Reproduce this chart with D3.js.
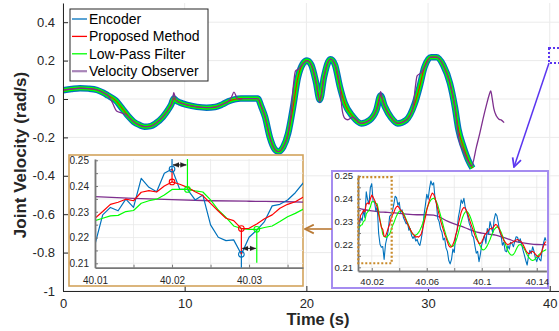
<!DOCTYPE html>
<html>
<head>
<meta charset="utf-8">
<script src="https://cdn.jsdelivr.net/npm/d3@7"></script>
<style>
  body { margin: 0; background: #fff; }
  svg { display: block; font-family: "Liberation Sans", Arial, Helvetica, sans-serif; }
</style>
</head>
<body>
<svg id="chart" width="559" height="331"></svg>
<script>
// ---- main plot data ----
// encoder / proposed / low-pass overlap at this scale, so they share one trajectory
const bandT = [0, 0.7, 1.4, 2.1, 2.8, 3.3, 3.7, 4.3, 4.9, 5.4, 5.8, 6.3, 6.7, 7.2, 7.6, 8.2, 8.6, 8.9, 9.1, 9.3, 9.6,
  10.2, 11.0, 11.8, 12.5, 13.1, 13.6, 14.1, 14.6, 16.0, 16.3, 16.6, 17.0, 17.4, 17.7, 18.1, 18.5, 18.9, 19.3, 19.7,
  20.05, 20.4, 20.8, 21.1, 21.45, 21.8, 22.0, 22.35, 22.75, 23.15, 23.8, 24.5, 25.2, 25.75, 26.1, 26.45, 27.0, 27.5,
  28.2, 28.9, 29.3, 29.7, 30.25, 30.7, 31.25, 31.8, 32.2, 32.5, 32.9, 33.3, 33.65];
const bandV = [0.046, 0.052, 0.056, 0.054, 0.047, 0.033, 0.018, -0.006, -0.052, -0.092, -0.118, -0.136, -0.144, -0.141,
  -0.128, -0.094, -0.060, -0.028, 0.003, -0.008, -0.018, -0.031, -0.041, -0.045, -0.042, -0.028, -0.012, -0.002, 0.002,
  0.002, -0.040, -0.092, -0.200, -0.262, -0.274, -0.250, -0.180, -0.045, 0.110, 0.182, 0.200, 0.178, 0.085, -0.005,
  0.115, 0.194, 0.207, 0.178, 0.065, -0.022, -0.090, -0.127, -0.110, -0.058, 0.018, -0.040, -0.100, -0.127, -0.110,
  -0.025, 0.062, 0.165, 0.218, 0.218, 0.176, 0.082, -0.040, -0.160, -0.248, -0.318, -0.360];

const observerT = [0, 0.7, 1.4, 2.1, 2.8, 3.3, 3.7, 3.9, 4.1, 4.4, 4.8, 5.2, 5.5, 5.8, 6.3, 6.7, 7.2, 7.6, 8.2, 8.6,
  9.0, 9.1, 9.25, 9.5, 10.2, 11.0, 11.8, 12.5, 13.1, 13.6, 13.85, 14.05, 14.3, 14.5, 14.8, 16.0, 16.3, 16.6, 17.0, 17.4,
  17.7, 18.1, 18.5, 18.75, 18.95, 19.1, 19.35, 19.7, 20.05, 20.4, 20.8, 21.1, 21.45, 21.8, 22.0, 22.35, 22.75, 22.95,
  23.15, 23.4, 23.8, 24.5, 25.2, 25.75, 26.0, 26.1, 26.25, 26.45, 27.0, 27.5, 28.2, 28.75, 28.95, 29.1, 29.45, 29.7,
  30.25, 30.7, 31.25, 31.8, 32.2, 32.55, 32.9, 33.3, 33.57, 33.98, 34.25, 34.5, 34.8, 35.02, 35.15, 35.27, 35.4,
  35.62, 35.84, 36.0, 36.25];
const observerV = [0.046, 0.052, 0.056, 0.054, 0.047, 0.033, 0.018, 0.000, -0.025, -0.062, -0.072, -0.082, -0.100,
  -0.118, -0.136, -0.144, -0.141, -0.128, -0.094, -0.060, -0.012, 0.033, 0.000, -0.016, -0.031, -0.041, -0.045, -0.042,
  -0.028, -0.012, 0.010, 0.036, 0.005, -0.003, 0.002, 0.002, -0.040, -0.092, -0.200, -0.262, -0.274, -0.250, -0.180,
  -0.070, 0.080, 0.145, 0.155, 0.182, 0.200, 0.178, 0.085, -0.015, 0.115, 0.194, 0.207, 0.178, 0.065, -0.060, -0.100,
  -0.108, -0.095, -0.127, -0.110, -0.058, -0.005, 0.038, -0.005, -0.040, -0.100, -0.127, -0.110, -0.050, 0.060, 0.120,
  0.138, 0.165, 0.218, 0.218, 0.176, 0.082, -0.040, -0.213, -0.270, -0.325, -0.349, -0.248, -0.179, -0.109, -0.031,
  0.021, 0.042, 0.003, -0.049, -0.089, -0.106, -0.109, -0.123];

const xTicks = [0, 10, 20, 30, 40];
const yTicks = [-1, -0.8, -0.6, -0.4, -0.2, 0, 0.2, 0.4];

// ---- zoomed data, sampled every 1 ms from 40.010 s ----
const insetStart = 40.010;
const insetStep = 0.001;
const insetEncoder = [0.2174, 0.2288, 0.2317, 0.2304, 0.2349, 0.2317, 0.2430, 0.2395, 0.2378, 0.2450,
  0.2466, 0.2387, 0.2387, 0.2346, 0.2365, 0.2249, 0.2201, 0.2188, 0.2191, 0.2135,
  0.2201, 0.2229, 0.2262, 0.2323, 0.2329, 0.2346, 0.2374, 0.2411,
  0.2405, 0.2372, 0.2385, 0.2340, 0.2352, 0.2318, 0.2305, 0.2290, 0.2296, 0.2262,
  0.2270, 0.2238, 0.2226, 0.2238, 0.2215, 0.2222, 0.2204, 0.2196, 0.2225, 0.2262,
  0.2330, 0.2372, 0.2420, 0.2398, 0.2445, 0.2478, 0.2460, 0.2470, 0.2402, 0.2380,
  0.2314, 0.2300, 0.2268, 0.2255, 0.2220, 0.2228, 0.2185, 0.2170, 0.2130, 0.2115,
  0.2135, 0.2180, 0.2165, 0.2238, 0.2260, 0.2320, 0.2350, 0.2395, 0.2380, 0.2402,
  0.2362, 0.2344, 0.2318, 0.2290, 0.2275, 0.2240, 0.2232, 0.2195, 0.2162, 0.2170,
  0.2125, 0.2158, 0.2200, 0.2220, 0.2241, 0.2205, 0.2270, 0.2245, 0.2300, 0.2277,
  0.2250, 0.2310, 0.2335, 0.2326, 0.2295, 0.2255, 0.2240, 0.2197, 0.2210, 0.2172,
  0.2168, 0.2195, 0.2180, 0.2210, 0.2205, 0.2190, 0.2215, 0.2234, 0.2232, 0.2210,
  0.2225, 0.2200, 0.2175, 0.2153, 0.2130, 0.2110, 0.2150, 0.2175, 0.2160, 0.2190,
  0.2170, 0.2140, 0.2125, 0.2150, 0.2135, 0.2128, 0.2180, 0.2209, 0.2230, 0.2215];
const insetProposed = [0.2275, 0.2301, 0.2329, 0.2337, 0.2349, 0.2343, 0.2376, 0.2382, 0.2377, 0.2400,
  0.2416, 0.2407, 0.2395, 0.2378, 0.2363, 0.2333, 0.2303, 0.2275, 0.2266, 0.2235,
  0.2236, 0.2253, 0.2273, 0.2288, 0.2314, 0.2329, 0.2339, 0.2356,
  0.2365, 0.2368, 0.2360, 0.2350, 0.2345, 0.2330, 0.2318, 0.2305, 0.2290, 0.2280,
  0.2265, 0.2255, 0.2245, 0.2240, 0.2232, 0.2235, 0.2232, 0.2238, 0.2245, 0.2268,
  0.2295, 0.2320, 0.2350, 0.2372, 0.2395, 0.2412, 0.2425, 0.2420, 0.2405, 0.2380,
  0.2355, 0.2330, 0.2305, 0.2285, 0.2265, 0.2245, 0.2230, 0.2212, 0.2195, 0.2188,
  0.2190, 0.2200, 0.2215, 0.2240, 0.2262, 0.2290, 0.2315, 0.2340, 0.2355, 0.2362,
  0.2358, 0.2345, 0.2330, 0.2310, 0.2292, 0.2275, 0.2258, 0.2240, 0.2225, 0.2215,
  0.2205, 0.2205, 0.2212, 0.2225, 0.2240, 0.2248, 0.2255, 0.2262, 0.2270, 0.2268,
  0.2272, 0.2280, 0.2288, 0.2285, 0.2275, 0.2262, 0.2245, 0.2232, 0.2218, 0.2210,
  0.2202, 0.2200, 0.2202, 0.2205, 0.2208, 0.2212, 0.2215, 0.2220, 0.2222, 0.2218,
  0.2215, 0.2210, 0.2200, 0.2188, 0.2175, 0.2165, 0.2160, 0.2162, 0.2168, 0.2170,
  0.2165, 0.2158, 0.2150, 0.2148, 0.2150, 0.2160, 0.2175, 0.2195, 0.2210, 0.2212];
const insetLowPass = [0.2266, 0.2275, 0.2284, 0.2286, 0.2301, 0.2305, 0.2333, 0.2343, 0.2349, 0.2365,
  0.2387, 0.2387, 0.2387, 0.2381, 0.2377, 0.2346, 0.2307, 0.2278, 0.2245, 0.2235,
  0.2232, 0.2232, 0.2239, 0.2245, 0.2262, 0.2281, 0.2294, 0.2310,
  0.2325, 0.2338, 0.2345, 0.2348, 0.2345, 0.2338, 0.2325, 0.2310, 0.2295, 0.2280,
  0.2265, 0.2252, 0.2245, 0.2240, 0.2241, 0.2245, 0.2252, 0.2262, 0.2275, 0.2292,
  0.2312, 0.2335, 0.2355, 0.2372, 0.2385, 0.2395, 0.2400, 0.2402, 0.2398, 0.2388,
  0.2372, 0.2350, 0.2328, 0.2305, 0.2282, 0.2260, 0.2240, 0.2222, 0.2208, 0.2198,
  0.2190, 0.2192, 0.2200, 0.2212, 0.2230, 0.2252, 0.2275, 0.2298, 0.2318, 0.2333,
  0.2342, 0.2345, 0.2340, 0.2330, 0.2315, 0.2298, 0.2278, 0.2258, 0.2238, 0.2220,
  0.2205, 0.2192, 0.2180, 0.2176, 0.2178, 0.2185, 0.2195, 0.2208, 0.2222, 0.2238,
  0.2252, 0.2265, 0.2272, 0.2277, 0.2275, 0.2268, 0.2255, 0.2240, 0.2222, 0.2205,
  0.2188, 0.2172, 0.2162, 0.2155, 0.2153, 0.2156, 0.2165, 0.2178, 0.2190, 0.2198,
  0.2200, 0.2196, 0.2190, 0.2180, 0.2168, 0.2155, 0.2145, 0.2138, 0.2132, 0.2130,
  0.2132, 0.2138, 0.2145, 0.2152, 0.2158, 0.2163, 0.2168, 0.2172, 0.2175, 0.2178];
const insetObserverT = [40.010, 40.015, 40.020, 40.025, 40.030, 40.035, 40.040, 40.045, 40.050, 40.055, 40.060,
  40.065, 40.070, 40.075, 40.080, 40.085, 40.090, 40.095, 40.100, 40.105, 40.110, 40.115, 40.120, 40.125, 40.130,
  40.135, 40.140, 40.145, 40.150];
const insetObserverV = [0.2359, 0.2352, 0.2347, 0.2343, 0.2341, 0.2339, 0.2336, 0.2333, 0.2331, 0.2330, 0.2330,
  0.2328, 0.2318, 0.2302, 0.2290, 0.2280, 0.2268, 0.2256, 0.2250, 0.2245, 0.2241, 0.2232, 0.2222, 0.2212, 0.2207,
  0.2203, 0.2200, 0.2199, 0.2198];
// sample indices of the marked peak / trough (encoder, proposed, low-pass)
const peakIdx = [10, 10, 12];
const troughIdx = [19, 19, 21];

const series = ["Encoder", "Proposed Method", "Low-Pass Filter", "Velocity Observer"];
const colors = { enc: "#0072bd", prop: "#ff0000", lpf: "#00ff00", obs: "#7e2f8e" };

const svg = d3.select("#chart");
const defs = svg.append("defs");
const insetT = insetEncoder.map((_, i) => +(insetStart + i * insetStep).toFixed(3));

function arrowMarker(id, color, size, filled) {
  defs.append("marker")
    .attr("id", id)
    .attr("viewBox", "0 0 10 10")
    .attr("refX", filled ? 10 : 9).attr("refY", 5)
    .attr("markerUnits", "userSpaceOnUse")
    .attr("markerWidth", size).attr("markerHeight", size)
    .attr("orient", "auto-start-reverse")
    .append("path")
    .attr("d", filled ? "M0,1 L10,5 L0,9 Z" : "M1,1 L9,5 L1,9")
    .attr("fill", filled ? color : "none")
    .attr("stroke", color)
    .attr("stroke-width", filled ? 0.5 : 1.6);
}
arrowMarker("arrPurple", "#5a35f0", 11, false);
arrowMarker("arrOrange", "#b97a35", 11, false);
arrowMarker("arrBlack", "#222", 6, true);

// ---- main axes ----
const x = d3.scaleLinear().domain([0, 41.5]).range([63, 568]);
const y = d3.scaleLinear().domain([-1, 0.5]).range([291, 3]);

defs.append("clipPath").attr("id", "mainClip").append("rect")
  .attr("x", 63).attr("y", 3).attr("width", 505).attr("height", 288);

const grid = svg.append("g").attr("stroke", "#ebebeb").attr("stroke-width", 1);
grid.selectAll("line.gx").data(xTicks).join("line")
  .attr("x1", (d) => x(d)).attr("x2", (d) => x(d)).attr("y1", 3).attr("y2", 291);
grid.selectAll("line.gy").data(yTicks).join("line")
  .attr("x1", 63).attr("x2", 568).attr("y1", (d) => y(d)).attr("y2", (d) => y(d));

const plot = svg.append("g").attr("clip-path", "url(#mainClip)");
const band = bandT.map((t, i) => [t, bandV[i]]);
const obs = observerT.map((t, i) => [t, observerV[i]]);
const mainLine = d3.line().x((d) => x(d[0])).y((d) => y(d[1])).curve(d3.curveMonotoneX);

[[colors.enc, 6.5], [colors.lpf, 4], [colors.prop, 1]].forEach(([c, w]) => {
  plot.append("path").attr("d", mainLine(band))
    .attr("fill", "none").attr("stroke", c).attr("stroke-width", w)
    .attr("stroke-linejoin", "round");
});
plot.append("path").attr("d", mainLine(obs))
  .attr("fill", "none").attr("stroke", colors.obs).attr("stroke-width", 1.3);

const xAxis = svg.append("g").attr("transform", "translate(0,291)")
  .call(d3.axisBottom(x).tickValues(xTicks).tickSizeInner(-5).tickSizeOuter(0).tickPadding(8)
    .tickFormat((d) => String(d)));
const yAxis = svg.append("g").attr("transform", "translate(63,0)")
  .call(d3.axisLeft(y).tickValues(yTicks).tickSizeInner(-5).tickSizeOuter(0).tickPadding(8)
    .tickFormat((d) => String(d)));
[xAxis, yAxis].forEach((a) => {
  a.select(".domain").attr("stroke", "#262626");
  a.selectAll(".tick line").attr("stroke", "#262626");
  a.selectAll("text").attr("fill", "#262626").attr("font-size", 13);
});

svg.append("text").attr("x", 318).attr("y", 325).attr("text-anchor", "middle")
  .attr("font-weight", "bold").attr("font-size", 16.5).attr("fill", "#262626").text("Time (s)");
svg.append("text").attr("transform", "translate(26,155) rotate(-90)").attr("text-anchor", "middle")
  .attr("font-weight", "bold").attr("font-size", 17).attr("fill", "#262626").text("Joint Velocity (rad/s)");

// ---- legend ----
const legend = svg.append("g");
legend.append("rect").attr("x", 70).attr("y", 9).attr("width", 138).attr("height", 72)
  .attr("fill", "#fff").attr("stroke", "#262626").attr("stroke-width", 1);
const legendColors = [colors.enc, colors.prop, colors.lpf, "#a884b8"];
series.forEach((name, i) => {
  const ly = 19 + i * 17.4;
  legend.append("line").attr("x1", 72).attr("x2", 87).attr("y1", ly).attr("y2", ly)
    .attr("stroke", legendColors[i]).attr("stroke-width", i === 3 ? 2.2 : 1.3);
  legend.append("text").attr("x", 89).attr("y", ly).attr("dy", "0.35em")
    .attr("font-size", 14).attr("fill", "#000").text(name);
});

// ---- zoom insets ----
function drawInset(cfg) {
  const g = svg.append("g");
  g.append("rect").attr("x", cfg.box[0]).attr("y", cfg.box[1]).attr("width", cfg.box[2]).attr("height", cfg.box[3])
    .attr("fill", "#fff").attr("stroke", cfg.border).attr("stroke-width", cfg.borderWidth);

  const xs = d3.scaleLinear().domain(cfg.xDomain).range(cfg.xRange);
  const ys = d3.scaleLinear().domain(cfg.yDomain).range(cfg.yRange);
  const [x0, x1] = cfg.xRange;
  const [yb, yt] = cfg.yRange;

  g.append("g").attr("stroke", "#e8e8e8").attr("stroke-width", 0.8)
    .call((gg) => {
      gg.selectAll("line.v").data(cfg.xTicks).join("line")
        .attr("x1", (d) => xs(d)).attr("x2", (d) => xs(d)).attr("y1", yt).attr("y2", yb);
      gg.selectAll("line.h").data(cfg.yTicks).join("line")
        .attr("x1", x0).attr("x2", x1).attr("y1", (d) => ys(d)).attr("y2", (d) => ys(d));
    });

  const clipId = cfg.id + "Clip";
  defs.append("clipPath").attr("id", clipId).append("rect")
    .attr("x", x0).attr("y", yt).attr("width", x1 - x0).attr("height", yb - yt);
  const body = g.append("g").attr("clip-path", `url(#${clipId})`);
  const line = d3.line().x((d, i) => xs(insetT[i])).y((d) => ys(d));
  const obsLine = d3.line().x((d, i) => xs(insetObserverT[i])).y((d) => ys(d)).curve(d3.curveMonotoneX);
  body.append("path").attr("d", obsLine(insetObserverV)).attr("fill", "none")
    .attr("stroke", colors.obs).attr("stroke-width", 1.3);
  [[insetEncoder, colors.enc], [insetLowPass, colors.lpf], [insetProposed, colors.prop]].forEach(([v, c]) => {
    body.append("path").attr("d", line(v)).attr("fill", "none").attr("stroke", c)
      .attr("stroke-width", cfg.lineWidth).attr("stroke-linejoin", "round");
  });

  const xa = g.append("g").attr("transform", `translate(0,${yb})`)
    .call(d3.axisBottom(xs).tickValues(cfg.xTicks).tickSizeInner(-3).tickSizeOuter(0).tickPadding(cfg.xPad)
      .tickFormat((d) => (cfg.xLabels.includes(d) ? String(d) : "")));
  const ya = g.append("g").attr("transform", `translate(${x0},0)`)
    .call(d3.axisLeft(ys).tickValues(cfg.yTicks).tickSizeInner(-3).tickSizeOuter(0).tickPadding(cfg.yPad)
      .tickFormat((d) => (cfg.yLabels.includes(d) ? String(d) : "")));
  [xa, ya].forEach((a) => {
    a.select(".domain").attr("stroke", "#777").attr("stroke-width", 1.8);
    a.selectAll(".tick line").attr("stroke", "#777");
    a.selectAll("text").attr("fill", "#262626").attr("font-size", cfg.fontSize);
  });
  return { g, xs, ys, body };
}

const yTicksFine = [0.21, 0.215, 0.22, 0.225, 0.23, 0.235, 0.24, 0.245, 0.25];
const yLabelsInset = [0.21, 0.22, 0.23, 0.24, 0.25];

const inset2 = drawInset({
  id: "inset2", box: [332, 171, 216, 117], border: "#a58cf0", borderWidth: 2,
  xDomain: [40.01, 40.147], xRange: [358, 546.4], yDomain: [0.2084, 0.2504], yRange: [271, 175],
  xTicks: [40.02, 40.04, 40.06, 40.08, 40.1, 40.12, 40.14], xLabels: [40.02, 40.06, 40.1, 40.14],
  yTicks: yTicksFine, yLabels: yLabelsInset, xPad: 7, yPad: 5, fontSize: 9.5, lineWidth: 1.1
});
// dotted box marking the first zoom window
inset2.g.append("rect")
  .attr("x", inset2.xs(40.0102)).attr("y", inset2.ys(0.2495))
  .attr("width", inset2.xs(40.0345) - inset2.xs(40.0102)).attr("height", inset2.ys(0.2118) - inset2.ys(0.2495))
  .attr("fill", "none").attr("stroke", "#c98a2a").attr("stroke-width", 2.2).attr("stroke-dasharray", "2,2");

const inset1 = drawInset({
  id: "inset1", box: [69, 155, 234, 131], border: "#d2a35c", borderWidth: 1.6,
  xDomain: [40.01, 40.037], xRange: [95, 303], yDomain: [0.2083, 0.2505], yRange: [267.7, 159],
  xTicks: [40.01, 40.015, 40.02, 40.025, 40.03, 40.035], xLabels: [40.01, 40.02, 40.03],
  yTicks: yTicksFine, yLabels: yLabelsInset, xPad: 9, yPad: 6, fontSize: 10, lineWidth: 1.2
});

// peak / trough markers with delay annotations
const markerSeries = [[insetEncoder, colors.enc], [insetProposed, colors.prop], [insetLowPass, colors.lpf]];
const ann = inset1.g.append("g").attr("clip-path", "url(#inset1Clip)");
const px = (i) => inset1.xs(insetT[i]);
const py = (v) => inset1.ys(v);
const top1 = 159, bottom1 = 267.7;
// peak: encoder drop line to top, proposed to encoder, low-pass from top
ann.append("line").attr("x1", px(peakIdx[0])).attr("x2", px(peakIdx[0]))
  .attr("y1", top1).attr("y2", py(insetEncoder[peakIdx[0]])).attr("stroke", colors.enc).attr("stroke-width", 1.2);
ann.append("line").attr("x1", px(peakIdx[1])).attr("x2", px(peakIdx[1]))
  .attr("y1", py(insetEncoder[peakIdx[0]])).attr("y2", py(insetProposed[peakIdx[1]])).attr("stroke", colors.prop).attr("stroke-width", 1.2);
ann.append("line").attr("x1", px(peakIdx[2])).attr("x2", px(peakIdx[2]))
  .attr("y1", top1).attr("y2", py(insetLowPass[peakIdx[2]])).attr("stroke", colors.lpf).attr("stroke-width", 1.2);
// trough
ann.append("line").attr("x1", px(troughIdx[0])).attr("x2", px(troughIdx[0]))
  .attr("y1", bottom1).attr("y2", py(insetEncoder[troughIdx[0]])).attr("stroke", colors.enc).attr("stroke-width", 1.2);
ann.append("line").attr("x1", px(troughIdx[1])).attr("x2", px(troughIdx[1]))
  .attr("y1", py(insetEncoder[troughIdx[0]])).attr("y2", py(insetProposed[troughIdx[1]])).attr("stroke", colors.prop).attr("stroke-width", 1.2);
ann.append("line").attr("x1", px(troughIdx[2])).attr("x2", px(troughIdx[2]))
  .attr("y1", bottom1 - 5).attr("y2", py(insetLowPass[troughIdx[2]])).attr("stroke", colors.lpf).attr("stroke-width", 1.2);

markerSeries.forEach(([v, c], s) => {
  [peakIdx[s], troughIdx[s]].forEach((i) => {
    ann.append("circle").attr("cx", px(i)).attr("cy", py(v[i])).attr("r", 2.8)
      .attr("fill", "none").attr("stroke", c).attr("stroke-width", 1.1);
  });
});
[[peakIdx, 0.2482], [troughIdx, 0.2158]].forEach(([idx, v]) => {
  ann.append("line").attr("x1", px(idx[0]) + 1).attr("x2", px(idx[2]) - 1)
    .attr("y1", py(v)).attr("y2", py(v)).attr("stroke", "#222").attr("stroke-width", 1)
    .attr("marker-start", "url(#arrBlack)").attr("marker-end", "url(#arrBlack)");
});

// ---- connector arrows ----
svg.append("line").attr("x1", 332).attr("y1", 229).attr("x2", 305).attr("y2", 229)
  .attr("stroke", "#b97a35").attr("stroke-width", 1.6).attr("marker-end", "url(#arrOrange)");
svg.append("rect").attr("x", 549).attr("y", 48).attr("width", 14).attr("height", 15)
  .attr("fill", "none").attr("stroke", "#5a35f0").attr("stroke-width", 2).attr("stroke-dasharray", "2,2");
svg.append("line").attr("x1", 549).attr("y1", 63).attr("x2", 514).attr("y2", 167)
  .attr("stroke", "#5a35f0").attr("stroke-width", 1.5).attr("marker-end", "url(#arrPurple)");
</script>
</body>
</html>
